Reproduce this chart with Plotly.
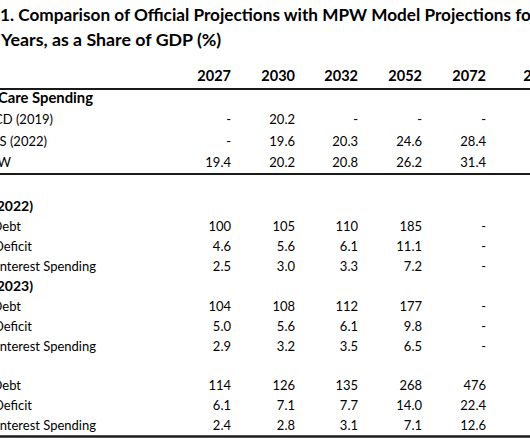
import plotly.graph_objects as go

# ---------------- data ----------------
title_lines = [
    "1. Comparison of Official Projections with MPW Model Projections for Selected",
    "Years, as a Share of GDP (%)",
]
years = ["2027", "2030", "2032", "2052", "2072", "2097"]

health_header = "Health Care Spending"
oecd_label, cms_label, mpw_label = "OECD (2019)", "CMS (2022)", "MPW"
oecd_2019 = ["-", "20.2", "-", "-", "-"]
cms_2022 = ["-", "19.6", "20.3", "24.6", "28.4"]
mpw_health = ["19.4", "20.2", "20.8", "26.2", "31.4"]

cbo22_header = "CBO (2022)"
cbo23_header = "CBO (2023)"
debt_label, deficit_label, interest_label = "Debt", "Deficit", "Interest Spending"
cbo22_debt = ["100", "105", "110", "185", "-"]
cbo22_deficit = ["4.6", "5.6", "6.1", "11.1", "-"]
cbo22_interest = ["2.5", "3.0", "3.3", "7.2", "-"]
cbo23_debt = ["104", "108", "112", "177", "-"]
cbo23_deficit = ["5.0", "5.6", "6.1", "9.8", "-"]
cbo23_interest = ["2.9", "3.2", "3.5", "6.5", "-"]
mpw_debt = ["114", "126", "135", "268", "476"]
mpw_deficit = ["6.1", "7.1", "7.7", "14.0", "22.4"]
mpw_interest = ["2.4", "2.8", "3.1", "7.1", "12.6"]

rows = [
    (health_header, "section", None),
    (oecd_label, "item", oecd_2019),
    (cms_label, "item", cms_2022),
    (mpw_label, "item", mpw_health),
    (cbo22_header, "section", None),
    (debt_label, "item", cbo22_debt),
    (deficit_label, "item", cbo22_deficit),
    (interest_label, "item", cbo22_interest),
    (cbo23_header, "section", None),
    (debt_label, "item", cbo23_debt),
    (deficit_label, "item", cbo23_deficit),
    (interest_label, "item", cbo23_interest),
    ("", "blank", None),
    (debt_label, "item", mpw_debt),
    (deficit_label, "item", mpw_deficit),
    (interest_label, "item", mpw_interest),
]

# ---------------- layout ----------------
W, H = 530, 442
FONT = "Lato, 'Open Sans', sans-serif"
row_y = [99, 121, 143, 164, 207, 227.5, 247.5, 267.5, 287.5, 307.5, 327.5, 347.5,
         367.5, 387, 407, 427]
label_right = [93, 53, 47, 11, 33, 21, 32, 96, 33, 21, 32, 96, None, 21, 32, 96]
label_size = [14.8, 13, 13, 13, 14, 13, 13, 13, 14, 13, 13, 13, None, 13, 13, 13]
col_right = [231, 295, 358, 422, 486, 557]
header_y = 77
title_y = [17, 42]
title_size = [17.2, 17.8]
rule_y = [(89, 2), (174, 2), (436.5, 2.5)]

fig = go.Figure()

# title
fig.add_trace(go.Scatter(
    x=[0, 1], y=title_y, mode="text",
    text=[f"<b>{t}</b>" for t in title_lines],
    textposition="middle right",
    textfont=dict(family=FONT, size=title_size, color="#000"),
    cliponaxis=True, hoverinfo="skip", showlegend=False))

# header years
fig.add_trace(go.Scatter(
    x=col_right, y=[header_y] * len(years), mode="text",
    text=[f"<b>{y}</b>" for y in years],
    textposition="middle left",
    textfont=dict(family=FONT, size=14.5, color="#000"),
    cliponaxis=True, hoverinfo="skip", showlegend=False))

# row labels (section labels bold and slightly larger)
lx, ly, lt, ls = [], [], [], []
for (lab, kind, _), y, xr, sz in zip(rows, row_y, label_right, label_size):
    if kind == "blank":
        continue
    lx.append(xr)
    ly.append(y)
    ls.append(sz)
    lt.append(f"<b>{lab}</b>" if kind == "section" else lab)
fig.add_trace(go.Scatter(
    x=lx, y=ly, mode="text", text=lt, textposition="middle left",
    textfont=dict(family=FONT, size=ls, color="#000"),
    cliponaxis=True, hoverinfo="skip", showlegend=False))

# values, one trace per year column
for j in range(5):
    xs, ys, ts = [], [], []
    for (lab, kind, vals), y in zip(rows, row_y):
        if vals is None:
            continue
        xs.append(col_right[j])
        ys.append(y)
        ts.append(vals[j])
    fig.add_trace(go.Scatter(
        x=xs, y=ys, mode="text", text=ts, textposition="middle left",
        textfont=dict(family=FONT, size=13, color="#000"),
        cliponaxis=True, hoverinfo="skip", showlegend=False))

for yy, w in rule_y:
    fig.add_shape(type="line", xref="x", yref="y", x0=0, x1=W, y0=yy, y1=yy,
                  line=dict(color="#1a1a1a", width=w))

fig.update_layout(
    width=W, height=H, margin=dict(l=0, r=0, t=0, b=0),
    paper_bgcolor="white", plot_bgcolor="white",
    xaxis=dict(range=[0, W], visible=False, fixedrange=True),
    yaxis=dict(range=[H, 0], visible=False, fixedrange=True),
    showlegend=False,
)

fig.write_html(
    "out.html",
    config={"displayModeBar": False},
    post_script="document.body.style.margin='0';document.body.style.overflow='hidden';",
)
